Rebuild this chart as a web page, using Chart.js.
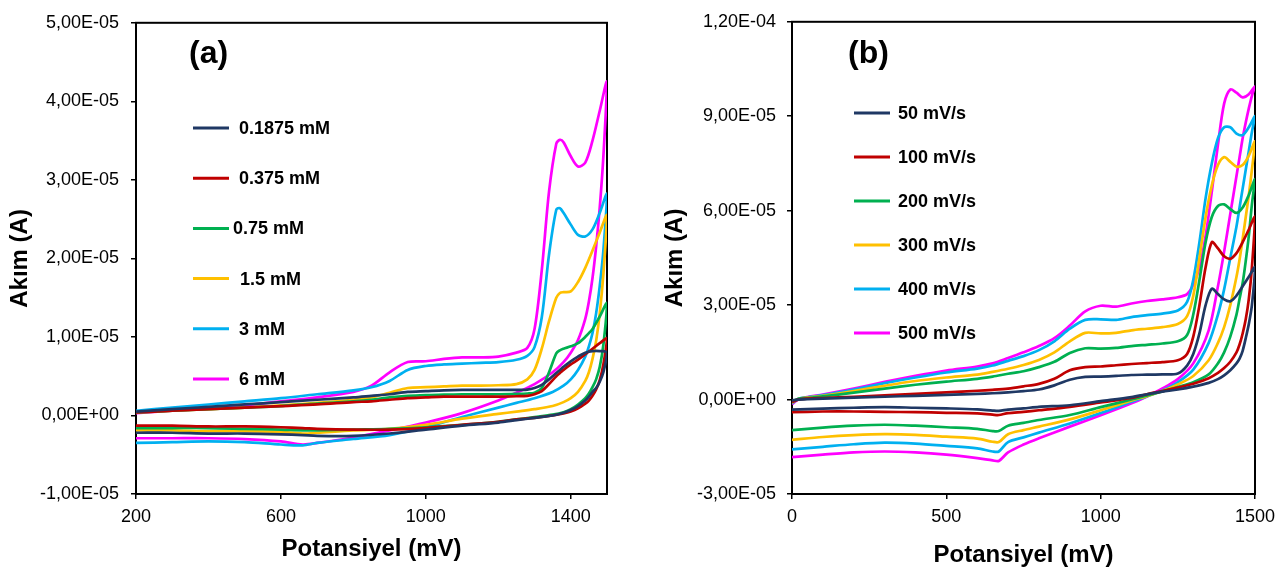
<!DOCTYPE html>
<html><head><meta charset="utf-8">
<script src="https://cdn.jsdelivr.net/npm/chart.js@4.4.1/dist/chart.umd.min.js"></script>
<style>
html,body{margin:0;padding:0;background:#fff;}
#wrap{position:relative;width:1286px;height:574px;overflow:hidden;background:#fff;}
.panel{position:absolute;top:0;height:574px;}
</style></head><body>
<div id="wrap">
<div class="panel" style="left:0;width:640px"><canvas id="ca" width="640" height="574"></canvas></div>
<div class="panel" style="left:640px;width:646px"><canvas id="cb" width="646" height="574"></canvas></div>
</div>
<script>
// ---------- Panel (a): concentration series, potential in mV, current in µA ----------
const potA_fwd = [200, 300, 400, 500, 600, 700, 800, 850, 900, 950, 1000, 1050, 1100, 1150, 1200, 1250, 1280, 1300, 1320, 1340, 1360, 1370, 1380, 1400, 1420, 1440, 1460, 1480, 1500];
const potA_rev = [1500, 1490, 1480, 1470, 1460, 1450, 1440, 1420, 1400, 1380, 1350, 1300, 1250, 1200, 1100, 1000, 900, 800, 700, 660, 600, 500, 400, 300, 200];
const labelsA = ['0.1875 mM', '0.375 mM', '0.75 mM', '1.5 mM', '3 mM', '6 mM'];
const ticksA_x = [200, 600, 1000, 1400];
const ticksA_y = [-10, 0, 10, 20, 30, 40, 50]; // µA

const a0_fwd = [0.5, 0.8, 1.1, 1.4, 1.7, 2.0, 2.3, 2.5, 2.7, 3.0, 3.1, 3.2, 3.25, 3.25, 3.25, 3.25, 3.3, 3.5, 3.9, 4.6, 5.4, 5.8, 6.2, 6.9, 7.5, 8.0, 8.2, 8.2, 8.0];
const a0_rev = [8.0, 5.5, 4.3, 3.5, 3.0, 2.4, 1.9, 1.2, 0.7, 0.35, 0.0, -0.3, -0.6, -0.9, -1.3, -1.8, -2.3, -2.6, -2.6, -2.5, -2.4, -2.3, -2.3, -2.2, -2.2];
const a1_fwd = [0.4, 0.6, 0.8, 1.0, 1.2, 1.4, 1.7, 1.8, 2.0, 2.2, 2.3, 2.4, 2.4, 2.4, 2.4, 2.45, 2.5, 2.7, 3.1, 4.0, 5.0, 5.4, 5.8, 6.5, 7.1, 7.8, 8.5, 9.2, 9.8];
const a1_rev = [9.8, 6.5, 4.5, 3.3, 2.5, 1.9, 1.5, 0.9, 0.5, 0.25, 0.0, -0.3, -0.5, -0.8, -1.2, -1.6, -1.8, -1.8, -1.7, -1.6, -1.5, -1.4, -1.4, -1.3, -1.3];
const a2_fwd = [0.4, 0.6, 0.8, 1.0, 1.2, 1.5, 1.8, 2.0, 2.3, 2.5, 2.6, 2.65, 2.7, 2.7, 2.7, 2.75, 2.8, 2.9, 3.5, 5.5, 7.9, 8.3, 8.5, 8.8, 9.2, 10.0, 11.0, 12.6, 14.3];
const a2_rev = [14.3, 9.0, 6.2, 4.6, 3.6, 2.8, 2.2, 1.4, 0.8, 0.4, 0.1, -0.2, -0.5, -0.8, -1.2, -1.5, -1.7, -1.8, -1.9, -1.9, -1.8, -1.7, -1.6, -1.6, -1.6];
const a3_fwd = [0.4, 0.6, 0.8, 1.0, 1.3, 1.6, 2.0, 2.3, 2.9, 3.5, 3.6, 3.7, 3.8, 3.8, 3.85, 4.0, 4.6, 5.8, 8.5, 12.0, 15.0, 15.6, 15.7, 15.8, 17.0, 18.8, 21.0, 23.3, 25.5];
const a3_rev = [25.5, 18.0, 13.0, 9.5, 7.2, 5.5, 4.4, 3.0, 2.2, 1.7, 1.2, 0.8, 0.5, 0.2, -0.4, -1.2, -1.7, -1.9, -2.2, -2.3, -2.1, -2.0, -2.0, -1.9, -1.9];
const a4_fwd = [0.6, 1.0, 1.4, 1.8, 2.2, 2.7, 3.2, 3.6, 4.4, 5.8, 6.3, 6.5, 6.6, 6.7, 6.8, 7.1, 7.6, 8.7, 12.5, 20.5, 26.2, 26.4, 25.8, 24.3, 23.0, 22.8, 23.7, 25.8, 28.2];
const a4_rev = [28.2, 21.0, 16.5, 13.0, 10.5, 8.8, 7.5, 5.8, 4.6, 3.8, 3.0, 2.2, 1.6, 1.0, -0.2, -1.5, -2.5, -3.0, -3.5, -3.8, -3.7, -3.4, -3.3, -3.4, -3.5];
const a5_fwd = [0.3, 0.6, 0.9, 1.3, 1.8, 2.3, 3.0, 3.8, 5.5, 6.8, 6.9, 7.2, 7.4, 7.4, 7.5, 8.0, 8.6, 11.0, 18.5, 28.5, 34.6, 35.1, 34.8, 33.0, 31.7, 32.2, 35.0, 38.8, 42.5];
const a5_rev = [42.5, 33.0, 26.5, 21.5, 17.5, 14.5, 12.3, 9.6, 8.0, 6.8, 5.5, 4.0, 2.9, 1.9, 0.3, -0.9, -1.9, -2.8, -3.5, -3.7, -3.3, -3.0, -2.9, -2.9, -2.9];

// ---------- Panel (b): scan-rate series ----------
const potB_fwd = [0, 20, 50, 100, 200, 300, 400, 500, 600, 650, 700, 750, 800, 850, 900, 950, 1000, 1050, 1100, 1150, 1200, 1250, 1280, 1300, 1320, 1340, 1360, 1380, 1400, 1420, 1440, 1460, 1480, 1500];
const potB_rev = [1500, 1490, 1480, 1470, 1460, 1450, 1440, 1420, 1400, 1380, 1350, 1300, 1250, 1200, 1150, 1100, 1000, 900, 800, 750, 700, 670, 650, 600, 500, 400, 300, 200, 100, 0];
const labelsB = ['50 mV/s', '100 mV/s', '200 mV/s', '300 mV/s', '400 mV/s', '500 mV/s'];
const ticksB_x = [0, 500, 1000, 1500];
const ticksB_y = [-30, 0, 30, 60, 90, 120]; // µA

const b0_fwd = [-0.3, 0.0, 0.1, 0.3, 0.6, 0.9, 1.2, 1.5, 1.8, 2.0, 2.3, 2.7, 3.2, 4.5, 6.3, 7.2, 7.3, 7.5, 7.8, 7.9, 8.0, 8.3, 10.8, 14.5, 21.0, 30.0, 35.2, 33.5, 31.8, 31.2, 33.0, 36.0, 39.0, 42.0];
const b0_rev = [42.0, 30.0, 24.0, 19.5, 15.5, 13.0, 11.5, 9.3, 7.7, 6.5, 5.3, 4.1, 3.2, 2.5, 1.7, 0.8, -0.5, -1.8, -2.3, -2.8, -3.2, -3.6, -3.5, -3.1, -2.8, -2.6, -2.4, -2.6, -2.9, -3.2];
const b1_fwd = [-0.8, 0.0, 0.3, 0.5, 0.9, 1.3, 1.8, 2.3, 2.8, 3.1, 3.5, 4.2, 5.0, 6.6, 9.3, 10.3, 10.5, 10.9, 11.3, 11.6, 11.9, 12.5, 14.5, 20.0, 30.0, 42.0, 50.0, 48.0, 45.5, 44.7, 46.5, 50.0, 54.0, 58.0];
const b1_rev = [58.0, 42.0, 32.0, 25.5, 21.0, 17.5, 15.0, 12.0, 10.0, 8.5, 6.8, 5.0, 3.8, 2.7, 1.7, 0.5, -0.9, -2.3, -3.4, -3.9, -4.3, -4.9, -4.8, -4.4, -4.2, -4.0, -3.9, -3.8, -3.8, -4.0];
const b2_fwd = [-0.7, 0.2, 0.5, 1.0, 2.2, 3.5, 4.7, 5.7, 6.6, 7.3, 8.2, 9.0, 10.3, 12.0, 14.8, 16.3, 16.2, 16.4, 17.0, 17.4, 17.8, 18.5, 20.5, 27.0, 38.0, 50.0, 58.0, 61.5, 62.0, 60.5, 59.3, 61.0, 65.0, 70.0];
const b2_rev = [70.0, 62.0, 52.0, 44.0, 37.0, 32.0, 27.0, 20.0, 15.0, 11.5, 8.0, 5.5, 4.0, 2.6, 1.3, 0.0, -2.4, -4.9, -6.5, -7.4, -8.3, -10.0, -10.0, -9.3, -8.8, -8.3, -8.0, -8.3, -8.9, -9.7];
const b3_fwd = [-1.0, 0.2, 0.6, 1.2, 2.7, 4.4, 5.9, 7.0, 7.9, 8.8, 9.8, 11.0, 12.6, 15.0, 18.5, 21.2, 21.0, 21.2, 22.0, 22.5, 23.0, 24.0, 26.5, 33.0, 45.0, 58.0, 68.0, 74.5, 77.0, 75.5, 74.0, 74.5, 77.5, 82.0];
const b3_rev = [82.0, 73.0, 65.0, 58.0, 51.0, 44.5, 39.0, 30.0, 23.0, 18.0, 12.5, 7.5, 4.8, 2.7, 1.1, -0.3, -3.4, -6.3, -8.6, -9.7, -11.0, -13.5, -13.4, -12.4, -11.8, -11.2, -11.0, -11.3, -11.9, -12.8];
const b4_fwd = [-1.2, 0.2, 0.7, 1.4, 3.2, 5.2, 7.0, 8.6, 9.8, 10.8, 12.3, 13.8, 15.7, 18.5, 22.5, 25.3, 25.5, 25.3, 26.2, 26.8, 27.3, 28.3, 31.0, 38.0, 50.0, 64.0, 75.0, 83.0, 86.5, 86.5, 84.5, 84.0, 86.5, 90.0];
const b4_rev = [90.0, 85.0, 79.0, 73.0, 67.0, 61.0, 55.0, 45.0, 35.0, 27.0, 18.0, 9.5, 5.5, 2.9, 1.0, -0.7, -4.3, -7.6, -10.5, -12.0, -13.5, -16.5, -16.5, -15.5, -14.7, -14.0, -13.7, -14.2, -15.0, -15.8];
const b5_fwd = [-1.5, 0.0, 0.8, 1.6, 3.5, 5.6, 7.5, 9.2, 10.5, 11.5, 13.2, 15.0, 17.0, 19.5, 23.5, 28.0, 29.8, 29.5, 30.5, 31.3, 31.8, 32.5, 33.5, 36.5, 42.0, 52.0, 66.0, 81.0, 94.0, 98.5, 97.5, 96.0, 97.0, 99.5];
const b5_rev = [99.5, 96.5, 92.5, 88.0, 83.0, 77.0, 71.0, 59.0, 47.0, 36.0, 22.0, 11.5, 6.5, 3.5, 1.0, -1.2, -5.0, -8.6, -12.3, -14.3, -16.8, -19.5, -19.3, -18.6, -17.5, -16.8, -16.5, -16.8, -17.5, -18.3];

const colors = ['#1f3864', '#c00000', '#00b050', '#ffc000', '#00b0f0', '#ff00ff'];
const toA = (ua) => ua / 1e6; // µA -> A
const FONT = "'Liberation Sans', Arial, Helvetica, sans-serif";

function loop(xf, yf, xr, yr) {
  const pts = [];
  const push = (x, y) => {
    const last = pts[pts.length - 1];
    if (last && last.x === x && last.y === toA(y)) return;
    pts.push({x: x, y: toA(y)});
  };
  xf.forEach((x, i) => push(x, yf[i]));
  xr.forEach((x, i) => push(x, yr[i]));
  return pts;
}

function sciComma(v) {
  if (Math.abs(v) < 1e-15) return '0,00E+00';
  const parts = v.toExponential(2).split('e');
  const n = parseInt(parts[1], 10);
  return parts[0].replace('.', ',') + 'E' + (n < 0 ? '-' : '+') + String(Math.abs(n)).padStart(2, '0');
}

const panelDeco = {
  id: 'panelDeco',
  beforeDatasetsDraw(chart, args, o) {
    const {ctx, chartArea: a} = chart;
    ctx.save();
    ctx.strokeStyle = '#000';
    ctx.lineWidth = 2;
    ctx.strokeRect(a.left, a.top, a.right - a.left, a.bottom - a.top);
    ctx.restore();
  },
  afterDatasetsDraw(chart, args, o) {
    const ctx = chart.ctx;
    ctx.save();
    ctx.fillStyle = '#000';
    ctx.textAlign = 'left';
    ctx.textBaseline = 'middle';
    ctx.font = 'bold 32px ' + FONT;
    ctx.fillText(o.tag, o.tagX, o.tagY);
    ctx.font = 'bold 18px ' + FONT;
    chart.data.datasets.forEach((ds, i) => {
      const y = o.y0 + i * o.dy;
      ctx.strokeStyle = ds.borderColor;
      ctx.lineWidth = 3;
      ctx.beginPath();
      ctx.moveTo(o.x0, y);
      ctx.lineTo(o.x1, y);
      ctx.stroke();
      ctx.fillStyle = '#000';
      const tx = (o.txs && o.txs[i] !== undefined) ? o.txs[i] : o.tx;
      ctx.fillText(ds.label, tx, y + 1);
    });
    ctx.restore();
  }
};

function makeChart(id, labels, series, xf, xr, ax) {
  const datasets = series.map((s, i) => ({
    label: labels[i],
    data: loop(xf, s[0], xr, s[1]),
    borderColor: colors[i],
    backgroundColor: colors[i],
    borderWidth: 2.7,
    pointRadius: 0,
    showLine: true,
    tension: 0.3,
    fill: false
  }));
  return new Chart(document.getElementById(id), {
    type: 'scatter',
    data: {datasets},
    plugins: [panelDeco],
    options: {
      responsive: false,
      devicePixelRatio: 1,
      animation: false,
      events: [],
      layout: {padding: {left: 0, top: ax.padTop, right: ax.padRight, bottom: 0}},
      plugins: {
        legend: {display: false},
        tooltip: {enabled: false},
        panelDeco: ax.deco
      },
      scales: {
        x: {
          type: 'linear',
          min: ax.xMin, max: ax.xMax,
          afterFit(s) { s.height = 80; },
          afterBuildTicks(s) { s.ticks = ax.xTicks.map(v => ({value: v})); },
          ticks: {color: '#000', padding: 7, autoSkip: false, maxRotation: 0,
                  font: {family: FONT, size: 18}, callback: (v) => String(v)},
          grid: {drawOnChartArea: false, drawTicks: true, tickLength: 5, color: '#000', lineWidth: 1.5},
          border: {display: true, color: '#000', width: 2},
          title: {display: true, text: 'Potansiyel (mV)', color: '#000',
                  font: {family: FONT, size: 24, weight: 'bold'},
                  padding: {top: 0, bottom: ax.xTitlePad}}
        },
        y: {
          type: 'linear',
          min: toA(ax.yTicks[0]), max: toA(ax.yTicks[ax.yTicks.length - 1]),
          afterFit(s) { s.width = ax.yWidth; },
          afterBuildTicks(s) { s.ticks = ax.yTicks.map(v => ({value: toA(v)})); },
          ticks: {color: '#000', padding: ax.yTickPad, autoSkip: false,
                  font: {family: FONT, size: 18}, callback: (v) => sciComma(v)},
          grid: {drawOnChartArea: false, drawTicks: true, tickLength: 5, color: '#000', lineWidth: 1.5},
          border: {display: true, color: '#000', width: 2},
          title: {display: true, text: 'Akım (A)', color: '#000',
                  font: {family: FONT, size: 24, weight: 'bold'},
                  padding: {top: ax.yTitlePad, bottom: 0}}
        }
      }
    }
  });
}

makeChart('ca', labelsA,
  [[a0_fwd, a0_rev], [a1_fwd, a1_rev], [a2_fwd, a2_rev], [a3_fwd, a3_rev], [a4_fwd, a4_rev], [a5_fwd, a5_rev]],
  potA_fwd, potA_rev,
  {xMin: 200, xMax: 1500, xTicks: ticksA_x, yTicks: ticksA_y,
   yWidth: 136, padTop: 16, padRight: 33, yTickPad: 12, yTitlePad: 6, xTitlePad: 10,
   deco: {tag: '(a)', tagX: 189, tagY: 54, x0: 193, x1: 229, y0: 128, dy: 50.2, tx: 239,
          txs: [239, 239, 233, 240, 239, 239]}});

makeChart('cb', labelsB,
  [[b0_fwd, b0_rev], [b1_fwd, b1_rev], [b2_fwd, b2_rev], [b3_fwd, b3_rev], [b4_fwd, b4_rev], [b5_fwd, b5_rev]],
  potB_fwd, potB_rev,
  {xMin: 0, xMax: 1500, xTicks: ticksB_x, yTicks: ticksB_y,
   yWidth: 152, padTop: 19, padRight: 31, yTickPad: 11, yTitlePad: 21, xTitlePad: 4,
   deco: {tag: '(b)', tagX: 208, tagY: 54, x0: 214, x1: 250, y0: 113, dy: 44, tx: 258}});
</script>
</body></html>
